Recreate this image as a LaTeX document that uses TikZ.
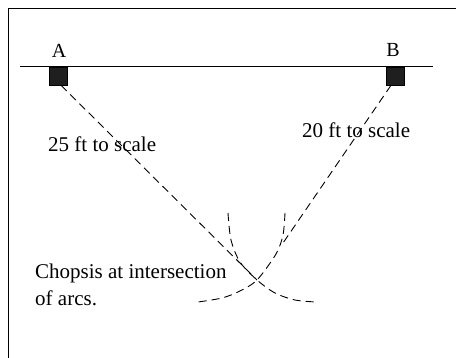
\documentclass[tikz,border=0pt]{standalone}
\usepackage{fontspec}
\setmainfont{Liberation Serif}
\begin{document}
\begin{tikzpicture}[x=1pt,y=-1pt,
  post/.style={draw=black,fill=black!88,minimum size=18pt,inner sep=0pt,line width=0.6pt},
  lbl/.style={inner sep=0pt,font=\fontsize{21}{27}\selectfont},
  tag/.style={inner sep=0pt,font=\fontsize{20}{24}\selectfont},
  dline/.style={line width=0.9pt,dash pattern=on 8pt off 5pt}]
\useasboundingbox (0,0) rectangle (456,358);
\draw[line width=1.4pt] (8.5,8.5) rectangle (470,372);
\draw[line width=1pt] (20,67) -- (433,67);
\node[post] (A) at (58,76) {};
\node[post] (B) at (395,76) {};
\node[tag,anchor=base] (la) at (59,58) {A};
\node[tag,anchor=base] (lb) at (393,57) {B};
\coordinate (X) at (257,280);
\coordinate (BE) at (283,243);
\draw[dline] ([xshift=3pt]A.south) -- (X);
\draw[dline] ([xshift=-4pt]B.south) -- (BE);
\draw[dline] plot[smooth] coordinates {(228,213) (231,240) (240,262) (257,280) (275,293) (295,300) (316,302)};
\draw[dline] plot[smooth] coordinates {(285,213) (283,235) (276,254) (257,280) (240,291) (222,298) (198,302)};
\node[lbl,anchor=base west] (t25) at (48,152) {25 ft to scale};
\node[lbl,anchor=base west] (t20) at (302,138) {20 ft to scale};
\node[lbl,anchor=base west,align=left] (tc) at (35,306) {Chopsis at intersection\\of arcs.};
\end{tikzpicture}
\end{document}
